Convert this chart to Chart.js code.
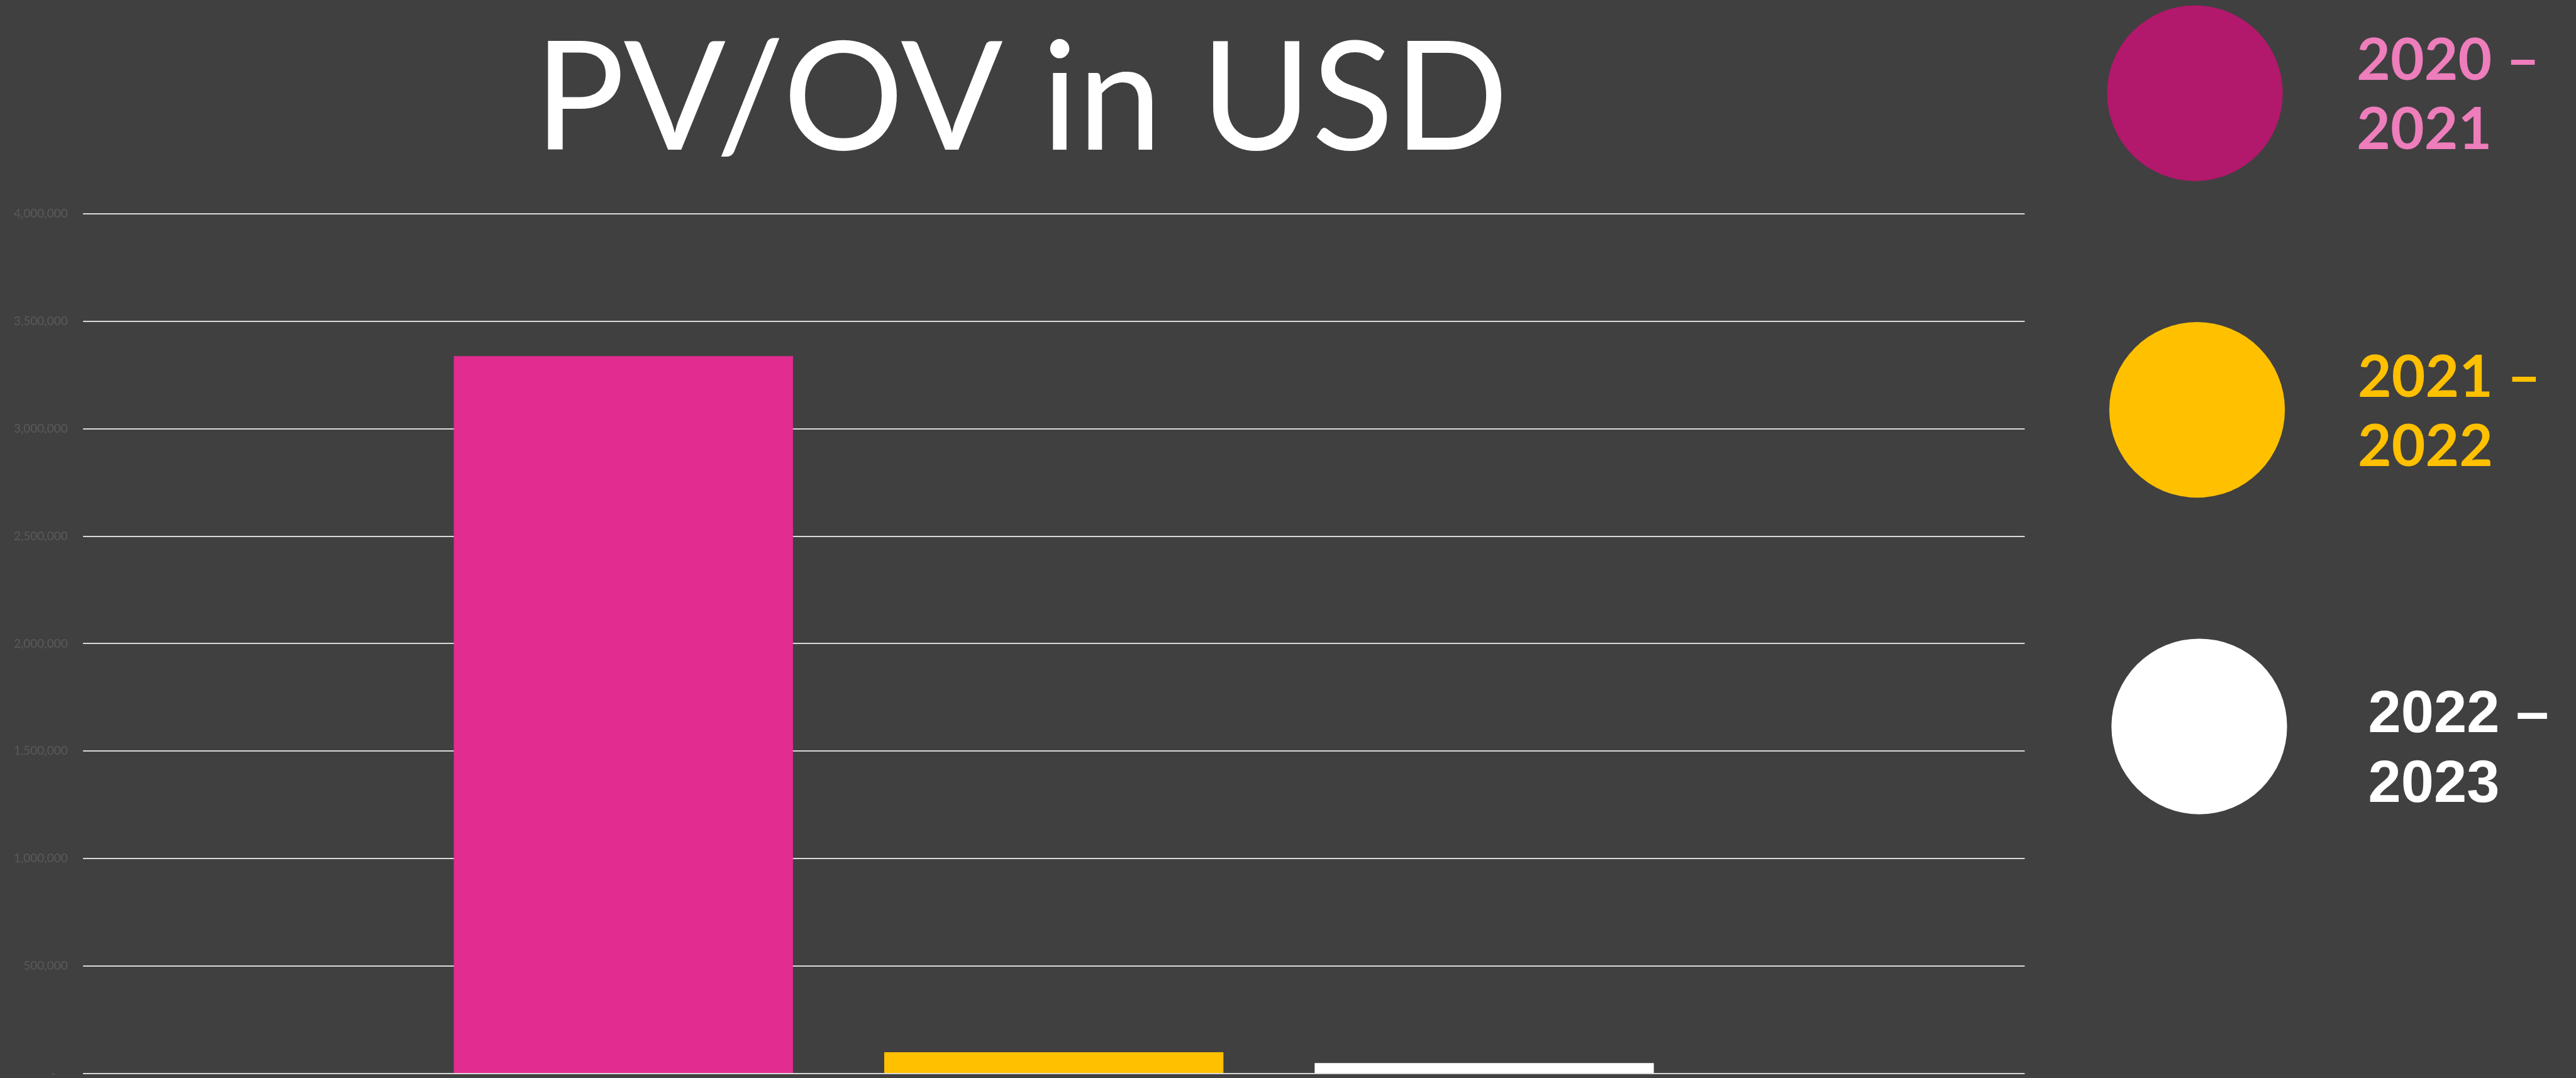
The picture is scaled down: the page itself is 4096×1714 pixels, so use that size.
<!DOCTYPE html>
<html>
<head>
<meta charset="utf-8">
<script src="https://cdn.jsdelivr.net/npm/chart.js@4.4.0/dist/chart.umd.min.js"></script>
<style>
  html, body { margin: 0; padding: 0; background: #404040; overflow: hidden; }
  canvas { display: block; }
</style>
</head>
<body>
<canvas id="chart" width="4096" height="1714"></canvas>
<script>
// reference was 4752 wide, everything is drawn at this scale
const S = 4096 / 4752;

const chartTitle = 'PV/OV in USD';
const categories = [''];
const seriesLabels = ['2020 – 2021', '2021 – 2022', '2022 – 2023'];
const pvOvValues = [3338000, 99400, 48900];
const barColors = ['#E22C90', '#FFC000', '#FFFFFF'];
const legendDotColors = ['#B2186B', '#FFC000', '#FFFFFF'];
const legendTextColors = ['#EE7DBB', '#FFC000', '#FFFFFF'];
const yMax = 4000000;
const yStep = 500000;

// legend placement, in reference pixels
const legendLayout = [
    {cx: 4049, cy: 172, tx: 4351, b1: 147, b2: 275, font: 'Lato', size: 107.5},
    {cx: 4053, cy: 756, tx: 4353, b1: 732, b2: 860, font: 'Lato', size: 107.5},
    {cx: 4057, cy: 1340, tx: 4372, b1: 1351, b2: 1479, font: '"Liberation Sans"', size: 109}
];
const dotRadius = 162;

const bgPlugin = {
    id: 'bg',
    beforeDraw: (chart) => {
        const ctx = chart.ctx;
        ctx.save();
        ctx.fillStyle = '#404040';
        ctx.fillRect(0, 0, chart.width, chart.height);
        ctx.restore();
    }
};

const drawInkLeft = (ctx, text, x, y) => {
    const m = ctx.measureText(text);
    ctx.fillText(text, x + m.actualBoundingBoxLeft, y);
};

const titleLegendPlugin = {
    id: 'titleLegend',
    afterDraw: (chart) => {
        const ctx = chart.ctx;
        ctx.save();

        // title, ink centred on x=1889 (ref)
        ctx.font = `${Math.round(278 * S)}px Lato`;
        ctx.fillStyle = '#FFFFFF';
        ctx.textAlign = 'left';
        ctx.textBaseline = 'alphabetic';
        const m = ctx.measureText(chartTitle);
        const inkW = m.actualBoundingBoxLeft + m.actualBoundingBoxRight;
        ctx.fillText(chartTitle, 1889.5 * S - inkW / 2 + m.actualBoundingBoxLeft, 276 * S);

        // legend: big dots with two-line labels
        seriesLabels.forEach((lab, i) => {
            const l = legendLayout[i];
            ctx.beginPath();
            ctx.arc(l.cx * S, l.cy * S, dotRadius * S, 0, Math.PI * 2);
            ctx.fillStyle = legendDotColors[i];
            ctx.fill();

            const parts = lab.split(' – ');
            ctx.font = `bold ${l.size * S}px ${l.font}`;
            ctx.fillStyle = legendTextColors[i];
            drawInkLeft(ctx, parts[0] + ' –', l.tx * S, l.b1 * S);
            drawInkLeft(ctx, parts[1], l.tx * S, l.b2 * S);
        });
        ctx.restore();
    }
};

const chartConfig = {
    type: 'bar',
    data: {
        labels: categories,
        datasets: seriesLabels.map((lab, i) => ({
            label: lab,
            data: [pvOvValues[i]],
            backgroundColor: barColors[i],
            borderWidth: 0,
            categoryPercentage: 0.665,
            barPercentage: 0.788
        }))
    },
    options: {
        responsive: false,
        devicePixelRatio: 1,
        animation: false,
        layout: {
            padding: {
                left: 0,
                top: 394.3 * S,
                right: (4752 - 3735) * S,
                bottom: 1714 - 1980.4 * S
            }
        },
        plugins: {
            legend: {display: false},
            title: {display: false},
            tooltip: {enabled: false}
        },
        scales: {
            x: {
                display: false
            },
            y: {
                min: 0,
                max: yMax,
                afterFit: (scale) => { scale.width = 153 * S; },
                border: {display: false},
                grid: {
                    color: '#D9D9D9',
                    lineWidth: 2,
                    drawTicks: true,
                    tickLength: 28 * S,
                    tickColor: 'rgba(0,0,0,0)'
                },
                ticks: {
                    stepSize: yStep,
                    padding: 0,
                    color: '#5A5A5A',
                    font: {family: 'Lato', size: 19, lineHeight: 0.6},
                    callback: (value) => value === 0 ? '-    ' : value.toLocaleString('en-US')
                }
            }
        }
    },
    plugins: [bgPlugin, titleLegendPlugin]
};

new Chart(document.getElementById('chart'), chartConfig);
</script>
</body>
</html>
